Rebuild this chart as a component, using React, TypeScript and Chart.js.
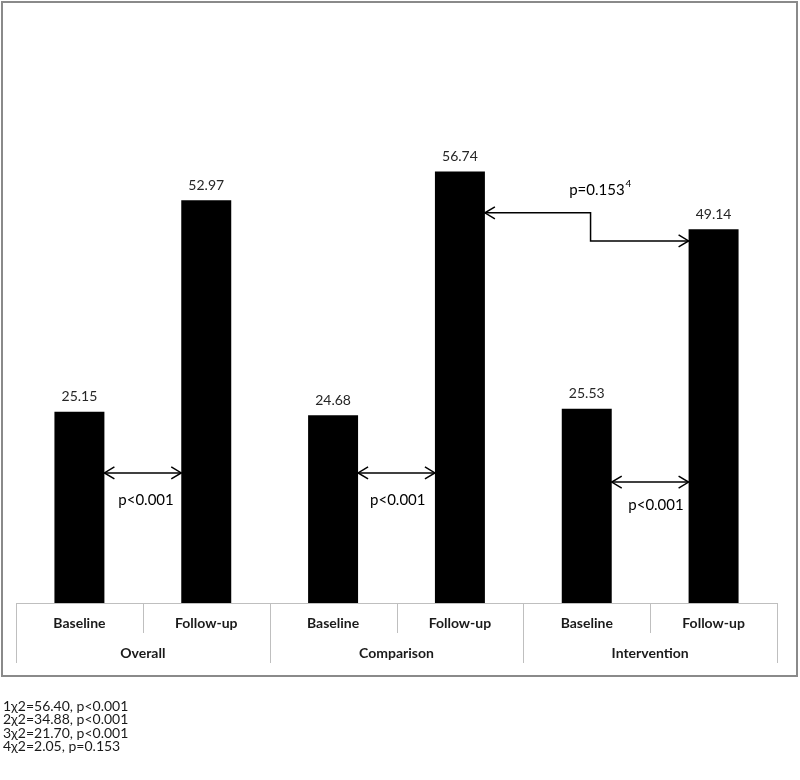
import React, { useEffect, useRef } from 'react';
import { Chart, registerables } from 'chart.js';

Chart.register(...registerables);

const categories = ['Baseline', 'Follow-up', 'Baseline', 'Follow-up', 'Baseline', 'Follow-up'];
const groups = ['Overall', 'Comparison', 'Intervention'];
const values = [25.15, 52.97, 24.68, 56.74, 25.53, 49.14];
const valueLabels = ['25.15', '52.97', '24.68', '56.74', '25.53', '49.14'];

// pairwise comparisons: bar index from/to, arrow level (data units), label
const pairFrom = [0, 2, 4];
const pairTo = [1, 3, 5];
const pairLevel = [17.1, 17.1, 15.9];
const pairLabelLevel = [13.5, 13.5, 12.9];
const pairLabelAt = [0.525, 2.51, 4.546];
const pairLabels = ['p<0.001', 'p<0.001', 'p<0.001'];

// cross comparison (follow-up comparison vs follow-up intervention)
const crossFrom = 3;
const crossTo = 5;
const crossLevelFrom = 51.3;
const crossLevelTo = 47.6;
const crossElbowAt = 4.03;
const crossLabel = 'p=0.153';
const crossSup = '4';
const crossLabelAt = 4.08;
const crossLabelLevel = 54.3;

const footnotes = [
  '1\u03c72=56.40, p<0.001',
  '2\u03c72=34.88, p<0.001',
  '3\u03c72=21.70, p<0.001',
  '4\u03c72=2.05, p=0.153',
];

const FONT = 'Lato, "Open Sans", sans-serif';

function head(ctx: CanvasRenderingContext2D, x: number, y: number, dir: number) {
  ctx.beginPath();
  ctx.moveTo(x - dir * 10, y - 6);
  ctx.lineTo(x, y);
  ctx.lineTo(x - dir * 10, y + 6);
  ctx.stroke();
}

const decorPlugin = {
  id: 'decor',
  beforeDraw(chart: any) {
    const ctx = chart.ctx as CanvasRenderingContext2D;
    ctx.save();
    ctx.fillStyle = '#ffffff';
    ctx.fillRect(0, 0, chart.width, chart.height);
    ctx.strokeStyle = '#8a8a8a';
    ctx.lineWidth = 2;
    ctx.strokeRect(2, 2, 795, 674);
    ctx.restore();
  },
  afterDraw(chart: any) {
    const ctx = chart.ctx as CanvasRenderingContext2D;
    const xs = chart.scales.x;
    const ys = chart.scales.y;
    const meta = chart.getDatasetMeta(0);
    const bottom = chart.chartArea.bottom;
    const x2 = chart.scales.x2;
    ctx.save();
    // table lines
    ctx.strokeStyle = '#bfbfbf';
    ctx.lineWidth = 1;
    const left = xs.getPixelForValue(-0.5);
    const right = xs.getPixelForValue(categories.length - 0.5);
    ctx.beginPath();
    ctx.moveTo(Math.round(left) + 0.5, Math.round(bottom) + 0.5);
    ctx.lineTo(Math.round(right) + 0.5, Math.round(bottom) + 0.5);
    ctx.stroke();
    for (let i = 0; i <= categories.length; i++) {
      const px = Math.round(xs.getPixelForValue(i - 0.5)) + 0.5;
      const end = i % 2 === 0 ? x2.bottom : xs.bottom;
      ctx.beginPath();
      ctx.moveTo(px, bottom);
      ctx.lineTo(px, end);
      ctx.stroke();
    }

    // value labels
    ctx.fillStyle = '#262626';
    ctx.font = '14px ' + FONT;
    ctx.textAlign = 'center';
    ctx.textBaseline = 'middle';
    meta.data.forEach((bar: any, i: number) => {
      ctx.fillText(valueLabels[i], bar.x, bar.y - 15);
    });

    // pair arrows
    ctx.strokeStyle = '#000000';
    ctx.fillStyle = '#000000';
    ctx.lineWidth = 1.5;
    ctx.font = '15px ' + FONT;
    for (let k = 0; k < pairFrom.length; k++) {
      const a: any = meta.data[pairFrom[k]];
      const b: any = meta.data[pairTo[k]];
      const xa = a.x + a.width / 2;
      const xb = b.x - b.width / 2;
      const y = ys.getPixelForValue(pairLevel[k]);
      ctx.beginPath();
      ctx.moveTo(xa, y);
      ctx.lineTo(xb, y);
      ctx.stroke();
      head(ctx, xa, y, -1);
      head(ctx, xb, y, 1);
      ctx.fillText(pairLabels[k], xs.getPixelForValue(pairLabelAt[k]), ys.getPixelForValue(pairLabelLevel[k]));
    }

    // cross arrow
    const ca: any = meta.data[crossFrom];
    const cb: any = meta.data[crossTo];
    const cxa = ca.x + ca.width / 2;
    const cxb = cb.x - cb.width / 2;
    const ex = xs.getPixelForValue(crossElbowAt);
    const y1 = ys.getPixelForValue(crossLevelFrom);
    const y2 = ys.getPixelForValue(crossLevelTo);
    ctx.beginPath();
    ctx.moveTo(cxa, y1);
    ctx.lineTo(ex, y1);
    ctx.lineTo(ex, y2);
    ctx.lineTo(cxb, y2);
    ctx.stroke();
    head(ctx, cxa, y1, -1);
    head(ctx, cxb, y2, 1);
    const lx = xs.getPixelForValue(crossLabelAt);
    const ly = ys.getPixelForValue(crossLabelLevel);
    ctx.fillText(crossLabel, lx, ly);
    const w = ctx.measureText(crossLabel).width;
    ctx.font = '10px ' + FONT;
    ctx.textAlign = 'left';
    ctx.fillText(crossSup, lx + w / 2 + 1, ly - 6);

    // footnotes
    ctx.fillStyle = '#1a1a1a';
    ctx.font = '14px ' + FONT;
    ctx.textAlign = 'left';
    ctx.textBaseline = 'middle';
    footnotes.forEach((t, i) => {
      ctx.fillText(t, 3, 706 + i * 13.6);
    });
    ctx.restore();
  },
};

const fixHeight = (scale: any) => {
  scale.height = 30;
};

export default function App() {
  const ref = useRef<HTMLCanvasElement | null>(null);
  useEffect(() => {
    document.body.style.margin = '0';
    const canvas = ref.current;
    if (!canvas) return;
    const chart = new Chart(canvas, {
      type: 'bar',
      data: {
        labels: categories,
        datasets: [
          {
            data: values,
            backgroundColor: '#000000',
            borderWidth: 0,
            categoryPercentage: 1,
            barPercentage: 0.394,
          },
        ],
      },
      options: {
        responsive: false,
        animation: false,
        devicePixelRatio: 1,
        layout: { padding: { left: 16, right: 23, top: 70.6, bottom: 117 } },
        plugins: {
          legend: { display: false },
          tooltip: { enabled: false },
          title: { display: false },
        },
        scales: {
          x: {
            type: 'category',
            position: 'bottom',
            weight: 0,
            offset: true,
            afterFit: fixHeight,
            grid: { display: false, drawTicks: false },
            border: { display: false },
            ticks: {
              padding: 11.6,
              color: '#1a1a1a',
              font: { family: FONT, size: 14, weight: 'bold' },
              maxRotation: 0,
              autoSkip: false,
            },
          },
          x2: {
            type: 'category',
            position: 'bottom',
            weight: 1,
            labels: groups,
            offset: true,
            afterFit: fixHeight,
            grid: { display: false, drawTicks: false },
            border: { display: false },
            ticks: {
              padding: 11.6,
              color: '#1a1a1a',
              font: { family: FONT, size: 14, weight: 'bold' },
              maxRotation: 0,
              autoSkip: false,
            },
          },
          y: {
            display: false,
            min: 0,
            max: 70,
          },
        },
      },
      plugins: [decorPlugin],
    });
    return () => chart.destroy();
  }, []);
  return <canvas ref={ref} width={800} height={780} style={{ display: 'block' }} />;
}
